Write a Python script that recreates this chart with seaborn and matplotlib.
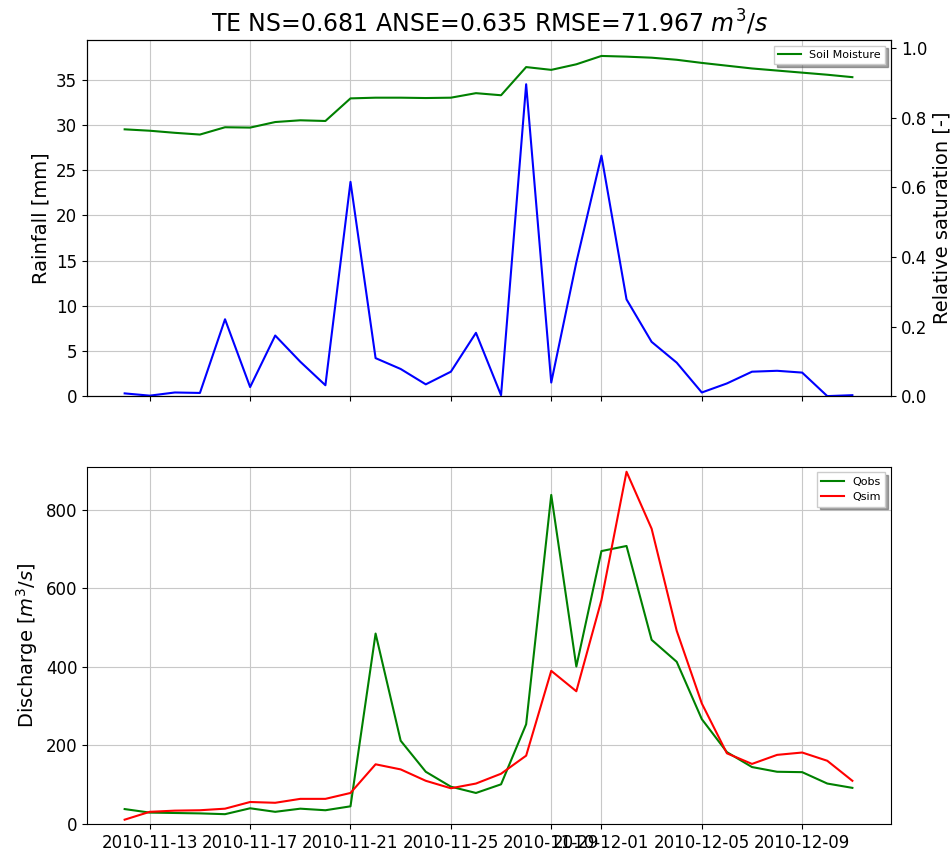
import matplotlib
matplotlib.use("Agg")
import matplotlib.pyplot as plt
import matplotlib.dates as mdates
import numpy as np
import pandas as pd
import seaborn as sns

dates = pd.date_range("2010-11-12", "2010-12-11", freq="D")

rainfall = [0.3, 0.05, 0.4, 0.35, 8.5, 1.0, 6.7, 3.8, 1.2, 23.7,
            4.2, 3.0, 1.3, 2.7, 7.0, 0.1, 34.5, 1.5, 14.8, 26.6,
            10.7, 6.0, 3.7, 0.4, 1.4, 2.7, 2.8, 2.6, 0.0, 0.1]

soil_moisture = [0.767, 0.763, 0.757, 0.752, 0.773, 0.772, 0.788, 0.793, 0.791, 0.856,
                 0.858, 0.858, 0.857, 0.858, 0.871, 0.865, 0.946, 0.938, 0.954, 0.978,
                 0.976, 0.973, 0.967, 0.958, 0.950, 0.942, 0.936, 0.930, 0.924, 0.917]

qobs = [38, 29, 28, 27, 25, 40, 31, 39, 35, 45,
        485, 212, 133, 95, 79, 101, 254, 838, 401, 695,
        708, 469, 413, 267, 183, 145, 133, 132, 103, 92]

qsim = [11, 31, 34, 35, 39, 56, 54, 64, 64, 79,
        152, 139, 110, 91, 103, 128, 174, 390, 338, 570,
        897, 752, 492, 307, 180, 153, 176, 182, 161, 110]

title = "TE NS=0.681 ANSE=0.635 RMSE=71.967 $m^3/s$"

fig = plt.figure(figsize=(9.53, 8.5), dpi=100)
ax1 = fig.add_axes([0.0913, 0.534, 0.8437, 0.419])
ax2 = fig.add_axes([0.0913, 0.0306, 0.8437, 0.4204], sharex=ax1)

# top: rainfall + soil moisture
sns.lineplot(x=dates, y=rainfall, ax=ax1, color="b", linewidth=1.5)
ax1.set_ylim(0, 39.4)
ax1.set_xlabel("")
ax1.set_ylabel("Rainfall [mm]", fontsize=14)
ax1.grid(True, color="#c8c8c8")
ax1.set_title(title, fontsize=17)
ax1.tick_params(labelsize=12, labelbottom=False)

ax1r = ax1.twinx()
sns.lineplot(x=dates, y=soil_moisture, ax=ax1r, color="g", linewidth=1.5, label="Soil Moisture")
ax1r.set_ylim(0, 1.024)
ax1r.set_xlabel("")
ax1r.set_ylabel("Relative saturation [-]", fontsize=14)
ax1r.tick_params(labelsize=12)
ax1r.legend(loc="upper right", fontsize=8, shadow=True, fancybox=False)

# bottom: discharge
sns.lineplot(x=dates, y=qobs, ax=ax2, color="g", linewidth=1.5, label="Qobs")
sns.lineplot(x=dates, y=qsim, ax=ax2, color="r", linewidth=1.5, label="Qsim")
ax2.set_ylim(0, 910)
ax2.set_yticks([0, 200, 400, 600, 800])
ax2.set_xlabel("")
ax2.set_ylabel("Discharge [$m^3/s$]", fontsize=14)
ax2.grid(True, color="#c8c8c8")
ax2.legend(loc="upper right", fontsize=8, shadow=True, fancybox=False)
ax2.tick_params(labelsize=12)

ax2.xaxis.set_major_locator(mdates.DayLocator(bymonthday=[1, 5, 9, 13, 17, 21, 25, 29]))
ax2.xaxis.set_major_formatter(mdates.DateFormatter("%Y-%m-%d"))
ax2.set_xlim(pd.Timestamp("2010-11-10 12:00"), pd.Timestamp("2010-12-12 13:00"))

fig.savefig("out.png", dpi=100)
